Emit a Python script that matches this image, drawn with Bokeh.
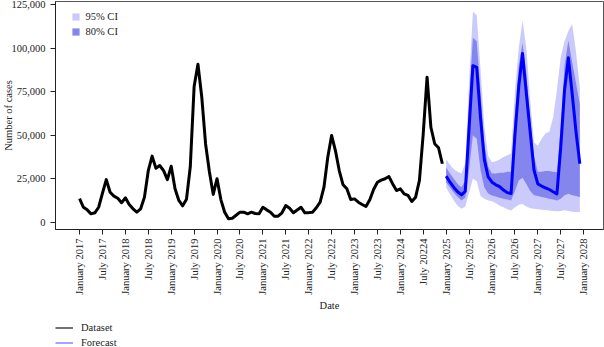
import math
from bokeh.plotting import figure
from bokeh.layouts import column
from bokeh.models import (Range1d, FixedTicker, NumeralTickFormatter, Legend,
                          LegendItem, ColumnDataSource)
from bokeh.embed import file_html
from bokeh.resources import INLINE

# Monthly reported cases, January 2017 - December 2024
dataset_cases = [
    13500, 8600, 7100, 4800, 5400, 8600, 16700, 24500, 17200, 15000, 13800, 11200,   # 2017
    14000, 10200, 7700, 5750, 7700, 14400, 29700, 38000, 31000, 32600, 29700, 24500,  # 2018
    32200, 19200, 12500, 9400, 13200, 32000, 78000, 90800, 72000, 45000, 29000, 16000,  # 2019
    25000, 13000, 5750, 1950, 2300, 4000, 5750, 5750, 4800, 5750, 5000, 4800,        # 2020
    8600, 7100, 5750, 3450, 3450, 5400, 9600, 8000, 5400, 7000, 8600, 5400,          # 2021
    5500, 5750, 8300, 11500, 20100, 37400, 49900, 41200, 29700, 21500, 19200, 13000,  # 2022
    13400, 11500, 10200, 9000, 12900, 18800, 23000, 24200, 25000, 26300, 22000, 18200,  # 2023
    19200, 16300, 15400, 11900, 14400, 24000, 51000, 83400, 54600, 45100, 42800, 33600,  # 2024
]

# Monthly forecast, January 2025 - December 2027
forecast_mean = [
    26500, 23000, 20000, 17500, 15700, 17700, 54000, 90000, 89000, 60000, 36000, 26000,
    23000, 21500, 20500, 18500, 17000, 16500, 50000, 78000, 97000, 74000, 52000, 30000,
    22000, 20800, 19800, 18800, 17500, 16300, 43000, 76000, 94500, 73800, 52000, 33600,
]
ci95_upper = [
    36000, 33000, 30500, 29000, 28000, 34000, 80000, 121000, 119000, 88000, 55000, 38000,
    34500, 35000, 36000, 37500, 38500, 39500, 75000, 100000, 116000, 100000, 70000, 46000,
    44000, 48000, 51000, 52000, 60000, 76000, 95000, 104000, 110000, 114000, 98000, 77600,
]
ci80_upper = [
    31500, 28000, 25000, 22000, 20100, 24000, 70000, 106000, 104000, 75000, 45000, 32000,
    28000, 28000, 28500, 28500, 29000, 29000, 62000, 90000, 103000, 85000, 60000, 38000,
    29000, 29000, 29500, 29500, 29000, 28700, 55000, 90000, 104500, 92000, 80000, 68000,
]
ci80_lower = [
    23000, 20000, 17000, 14500, 12500, 14000, 30000, 50000, 48000, 30000, 20000, 16500,
    15400, 14800, 14000, 13500, 13000, 12500, 18000, 24000, 25500, 22000, 18000, 15500,
    15000, 14500, 14000, 13500, 13000, 12500, 13500, 15500, 16300, 15500, 15000, 14400,
]
ci95_lower = [
    20000, 16000, 12500, 9500, 7700, 9000, 17000, 25000, 23500, 15000, 13500, 12500,
    12000, 10900, 9500, 8600, 7500, 6700, 8500, 10000, 10400, 9000, 8000, 7700,
    7500, 7200, 7000, 6700, 6500, 6300, 6500, 6800, 6500, 6000, 5800, 5750,
]

# Half-yearly date ticks
tick_labels = [
    "January 2017", "July 2017", "January 2018", "July 2018", "January 2019", "July 2019",
    "January 2020", "July 2020", "January 2021", "July 2021", "January 2022", "July 2022",
    "January 2023", "July 2023", "January 2024", "July 20224", "January 2025", "July 2025",
    "January 2026", "July 2026", "January 2027", "July 2027", "January 2028",
]
y_ticks = [0, 25000, 50000, 75000, 100000, 125000]

FONT = "Liberation Serif"
TEXT = "#222222"

# Month index from January 2017
hist_x = list(range(len(dataset_cases)))
fc_x = [len(dataset_cases) + i for i in range(len(forecast_mean))]
tick_pos = [6 * i for i in range(len(tick_labels))]

hist_src = ColumnDataSource(dict(x=hist_x, y=dataset_cases))
fc_src = ColumnDataSource(dict(x=fc_x, mean=forecast_mean,
                               lo95=ci95_lower, hi95=ci95_upper,
                               lo80=ci80_lower, hi80=ci80_upper))

p = figure(width=604, height=318, output_backend="svg", toolbar_location=None,
           x_range=Range1d(-6.3, 137.2), y_range=Range1d(-4200, 126900),
           min_border_left=55, min_border_right=1, min_border_top=1, min_border_bottom=89)

p.background_fill_color = "white"
p.border_fill_color = "white"
p.outline_line_color = "#555555"
p.outline_line_width = 1
p.xgrid.visible = False
p.ygrid.visible = False

band95 = p.varea(x="x", y1="lo95", y2="hi95", source=fc_src, fill_color="#cbcbfb")
band80 = p.varea(x="x", y1="lo80", y2="hi80", source=fc_src, fill_color="#8585ee")
p.line(x="x", y="y", source=hist_src, line_color="black", line_width=3, line_join="round")
p.line(x="x", y="mean", source=fc_src, line_color="#0000ff", line_width=3, line_join="round")

# Axes
p.yaxis.ticker = FixedTicker(ticks=y_ticks)
p.yaxis.formatter = NumeralTickFormatter(format="0,0")
p.yaxis.axis_label = "Number of cases"
p.xaxis.ticker = FixedTicker(ticks=tick_pos)
p.xaxis.major_label_overrides = {pos: lab for pos, lab in zip(tick_pos, tick_labels)}
p.xaxis.major_label_orientation = math.pi / 2
p.xaxis.axis_label = "Date"

for ax in (p.xaxis[0], p.yaxis[0]):
    ax.axis_line_color = TEXT
    ax.major_tick_line_color = TEXT
    ax.minor_tick_line_color = None
    ax.major_tick_in = 0
    ax.major_tick_out = 5
    ax.major_label_standoff = 4
    ax.major_label_text_font = FONT
    ax.major_label_text_font_size = "10.5px"
    ax.major_label_text_color = TEXT
    ax.axis_label_text_font = FONT
    ax.axis_label_text_font_size = "10.5px"
    ax.axis_label_text_font_style = "normal"
    ax.axis_label_text_color = TEXT
p.xaxis.axis_label_standoff = 2
p.yaxis.major_label_standoff = 5
p.yaxis.axis_label_standoff = -6

# Confidence interval key (inside the plot area)
ci_legend = Legend(items=[LegendItem(label="95% CI", renderers=[band95]),
                          LegendItem(label="80% CI", renderers=[band80])],
                   location=(15.5, 190), glyph_width=9, glyph_height=9, label_height=15,
                   spacing=0, padding=0, margin=0, label_standoff=6,
                   background_fill_alpha=0, border_line_alpha=0,
                   label_text_font=FONT, label_text_font_size="10.5px",
                   label_text_color=TEXT)
p.add_layout(ci_legend, "center")

# Series key, in a strip under the chart (its frame lines up with the chart's)
key_fig = figure(width=604, height=29, output_backend="svg", toolbar_location=None,
                 x_axis_location=None, y_axis_location=None, min_border=0,
                 x_range=Range1d(0, 1), y_range=Range1d(0, 1))
key_fig.outline_line_color = None
key_fig.xgrid.visible = False
key_fig.ygrid.visible = False
nan = float("nan")
key_data = key_fig.line([nan], [nan], line_color="black", line_width=1.1)
key_fc = key_fig.line([nan], [nan], line_color="#5a5aff", line_width=1.1)
series_legend = Legend(items=[LegendItem(label="Dataset", renderers=[key_data]),
                              LegendItem(label="Forecast", renderers=[key_fc])],
                       location=(0, -3.2), glyph_width=18, glyph_height=15, label_height=15,
                       spacing=0, padding=0, margin=0, label_standoff=8,
                       background_fill_alpha=0, border_line_alpha=0,
                       label_text_font=FONT, label_text_font_size="10.5px",
                       label_text_color=TEXT)
key_fig.add_layout(series_legend, "center")

page = column(p, key_fig, spacing=0)
open("out.html", "w").write(file_html(page, INLINE))
